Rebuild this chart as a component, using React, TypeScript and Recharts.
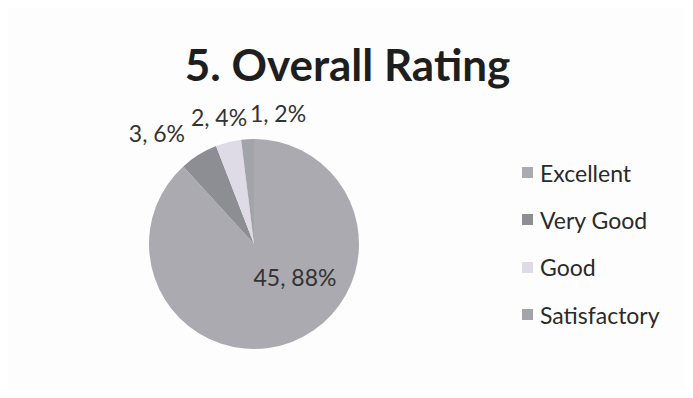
import { Cell, Legend, Pie, PieChart } from "recharts"

const categories = ["Excellent", "Very Good", "Good", "Satisfactory"]
const counts = [45, 3, 2, 1]
const percents = [88, 6, 4, 2]
const colors = ["#aaaab0", "#8d8d94", "#dedbe6", "#a3a3aa"]

const data = categories.map((name, i) => ({ name, value: counts[i], pct: percents[i] }))

const RAD = Math.PI / 180
const font = "Lato, 'Open Sans', sans-serif"

function renderLabel(props: any) {
  const { cx, cy, midAngle, outerRadius, index } = props
  const d = data[index]
  const inside = index === 0
  const r = inside ? outerRadius * 0.5 : outerRadius + 26
  let x = cx + r * Math.cos(-midAngle * RAD)
  let y = cy + r * Math.sin(-midAngle * RAD)
  let anchor: "start" | "middle" | "end" = "middle"
  if (inside) {
    // excel "best fit" pushes the big label up and right
    x += 22
    y -= 16
  } else {
    const dx = x - cx
    if (dx < -50) anchor = "end"
    else if (dx > -20) {
      anchor = "start"
      x += 4
    } else x -= 3
  }
  return (
    <text x={x} y={y} textAnchor={anchor} dominantBaseline="central" fill="#333" fontSize={23} fontFamily={font}>
      {`${d.value}, ${d.pct}%`}
    </text>
  )
}

function LegendList() {
  return (
    <div style={{ fontFamily: font, fontSize: 23, color: "#2a2a2a" }}>
      {data.map((d, i) => (
        <div key={d.name} style={{ display: "flex", alignItems: "center", height: 47.3 }}>
          <span style={{ width: 11, height: 11, background: colors[i], marginRight: 7, display: "inline-block" }} />
          {d.name}
        </div>
      ))}
    </div>
  )
}

export default function App() {
  return (
    <div
      style={{
        position: "relative",
        margin: -8,
        width: 693,
        height: 398,
        background: "#fdfdfd",
        boxSizing: "border-box",
        border: "1px solid #9a9a9a",
      }}
    >
      <div
        style={{
          position: "absolute",
          top: 35,
          left: 0,
          width: 693,
          textAlign: "center",
          fontFamily: font,
          fontWeight: 700,
          fontSize: 44,
          lineHeight: "56px",
          color: "#1e1e1e",
        }}
      >
        5. Overall Rating
      </div>
      <PieChart width={691} height={396} style={{ position: "absolute", top: 0, left: 0 }}>
        <Pie
          data={data}
          dataKey="value"
          nameKey="name"
          cx={248}
          cy={238}
          outerRadius={105}
          startAngle={90}
          endAngle={-270}
          stroke="none"
          label={renderLabel}
          labelLine={false}
          isAnimationActive={false}
        >
          {data.map((d, i) => (
            <Cell key={d.name} fill={colors[i]} />
          ))}
        </Pie>
        <Legend
          layout="vertical"
          align="right"
          verticalAlign="top"
          wrapperStyle={{ top: 148, left: 521, right: "auto", width: 170 }}
          content={() => <LegendList />}
        />
      </PieChart>
    </div>
  )
}
